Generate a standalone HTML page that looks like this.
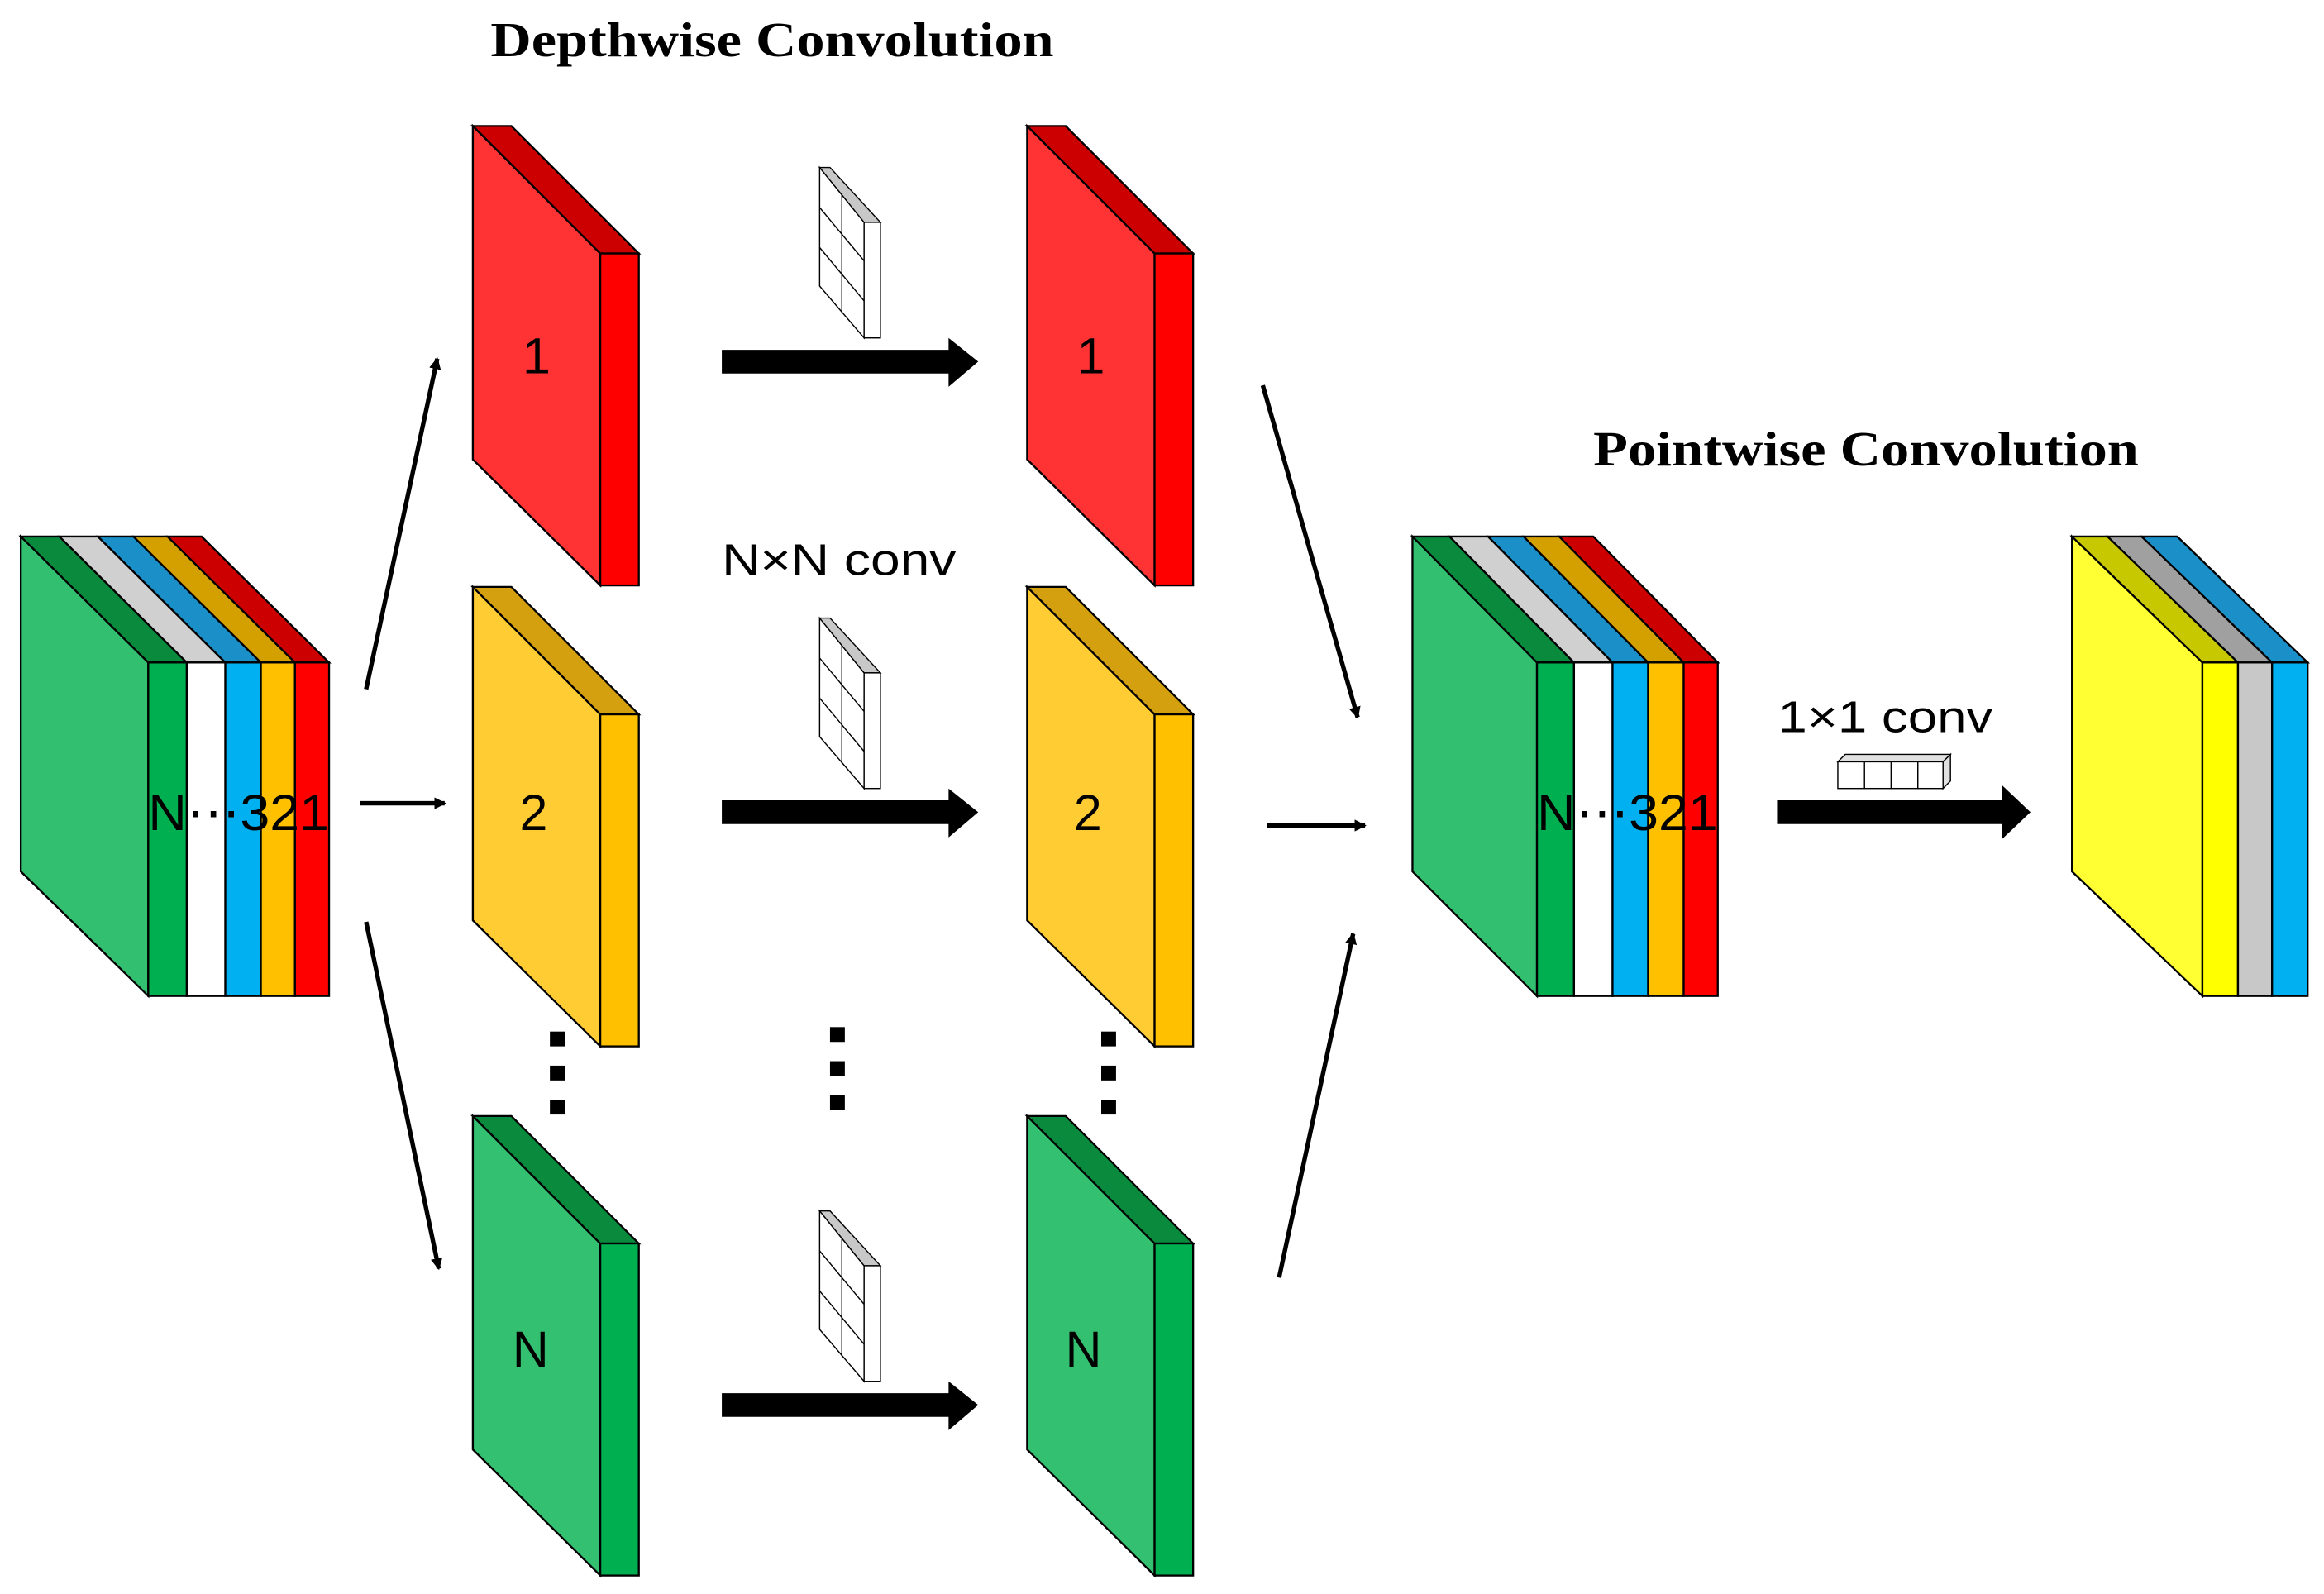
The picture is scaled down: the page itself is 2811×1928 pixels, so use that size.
<!DOCTYPE html>
<html><head><meta charset="utf-8"><style>
html,body{margin:0;padding:0;background:#fff;}
svg{display:block;}
</style></head><body>
<svg width="2811" height="1928" viewBox="0 0 1568 1075.5" xmlns="http://www.w3.org/2000/svg">
<defs>
<marker id="ah" markerWidth="8" markerHeight="8" refX="7" refY="4" orient="auto" markerUnits="userSpaceOnUse" viewBox="0 0 8 8">
<path d="M0,0 L8,4 L0,8 Z" fill="#000"/></marker>
<g id="kern" stroke="#000" stroke-width="0.8">
<polygon points="553,113 583,150 583,228 553,193" fill="#fff"/>
<polygon points="553,113 560,113 594,150 583,150" fill="#c8c8c8"/>
<rect x="583" y="150" width="11" height="78" fill="#fff"/>
<line x1="568" y1="131" x2="568" y2="211"/>
<line x1="553" y1="140" x2="583" y2="176"/>
<line x1="553" y1="167" x2="583" y2="203"/>
</g>
</defs>
<g stroke="#000" stroke-width="1.3" stroke-linejoin="miter">
<!-- input stack -->
<polygon points="14,362 100,447 100,672 14,588" fill="#33bf70"/>
<polygon points="14,362 40,362 126,447 100,447" fill="#0a8a3c"/>
<polygon points="40,362 66,362 152,447 126,447" fill="#d0d0d0"/>
<polygon points="66,362 90,362 176,447 152,447" fill="#1a8fc8"/>
<polygon points="90,362 113,362 199,447 176,447" fill="#d4a000"/>
<polygon points="113,362 136,362 222,447 199,447" fill="#cc0000"/>
<rect x="100" y="447" width="26" height="225" fill="#00b050"/>
<rect x="126" y="447" width="26" height="225" fill="#fff"/>
<rect x="152" y="447" width="24" height="225" fill="#00b0f0"/>
<rect x="176" y="447" width="23" height="225" fill="#ffc000"/>
<rect x="199" y="447" width="23" height="225" fill="#ff0000"/>

<!-- mid stack -->
<polygon points="953,362 1037,447 1037,672 953,588" fill="#33bf70"/>
<polygon points="953,362 978,362 1062,447 1037,447" fill="#0a8a3c"/>
<polygon points="978,362 1004,362 1088,447 1062,447" fill="#d0d0d0"/>
<polygon points="1004,362 1028,362 1112,447 1088,447" fill="#1a8fc8"/>
<polygon points="1028,362 1052,362 1136,447 1112,447" fill="#d4a000"/>
<polygon points="1052,362 1075,362 1159,447 1136,447" fill="#cc0000"/>
<rect x="1037" y="447" width="25" height="225" fill="#00b050"/>
<rect x="1062" y="447" width="26" height="225" fill="#fff"/>
<rect x="1088" y="447" width="24" height="225" fill="#00b0f0"/>
<rect x="1112" y="447" width="24" height="225" fill="#ffc000"/>
<rect x="1136" y="447" width="23" height="225" fill="#ff0000"/>

<!-- output stack -->
<polygon points="1398,362 1486,447 1486,672 1398,588" fill="#ffff33"/>
<polygon points="1398,362 1422,362 1510,447 1486,447" fill="#c8c800"/>
<polygon points="1422,362 1445,362 1533,447 1510,447" fill="#a0a0a0"/>
<polygon points="1445,362 1469,362 1557,447 1533,447" fill="#1a8fc8"/>
<rect x="1486" y="447" width="24" height="225" fill="#ffff00"/>
<rect x="1510" y="447" width="23" height="225" fill="#c8c8c8"/>
<rect x="1533" y="447" width="24" height="225" fill="#00b0f0"/>

<!-- slabs -->
<g id="s1">
<polygon points="319,85 405,171 405,395 319,310" fill="#ff3333"/>
<polygon points="319,85 345,85 431,171 405,171" fill="#cc0000"/>
<rect x="405" y="171" width="26" height="224" fill="#ff0000"/>
</g>
<g>
<polygon points="319,396 405,482 405,706 319,621" fill="#ffcc33"/>
<polygon points="319,396 345,396 431,482 405,482" fill="#d4a010"/>
<rect x="405" y="482" width="26" height="224" fill="#ffc000"/>
</g>
<g>
<polygon points="319,753 405,839 405,1063 319,978" fill="#33c070"/>
<polygon points="319,753 345,753 431,839 405,839" fill="#0a8a3c"/>
<rect x="405" y="839" width="26" height="224" fill="#00b050"/>
</g>
<g>
<polygon points="693,85 779,171 779,395 693,310" fill="#ff3333"/>
<polygon points="693,85 719,85 805,171 779,171" fill="#cc0000"/>
<rect x="779" y="171" width="26" height="224" fill="#ff0000"/>
</g>
<g>
<polygon points="693,396 779,482 779,706 693,621" fill="#ffcc33"/>
<polygon points="693,396 719,396 805,482 779,482" fill="#d4a010"/>
<rect x="779" y="482" width="26" height="224" fill="#ffc000"/>
</g>
<g>
<polygon points="693,753 779,839 779,1063 693,978" fill="#33c070"/>
<polygon points="693,753 719,753 805,839 779,839" fill="#0a8a3c"/>
<rect x="779" y="839" width="26" height="224" fill="#00b050"/>
</g>
</g>

<!-- kernels -->
<use href="#kern"/>
<use href="#kern" transform="translate(0,304)"/>
<use href="#kern" transform="translate(0,704)"/>

<!-- 1x1 kernel -->
<g stroke="#000" stroke-width="0.8" fill="#fff">
<polygon points="1240,514 1245,509 1316,509 1311,514" fill="#e0e0e0"/>
<rect x="1240" y="514" width="18" height="18"/>
<rect x="1258" y="514" width="18" height="18"/>
<rect x="1276" y="514" width="18" height="18"/>
<rect x="1294" y="514" width="17" height="18"/>
<polygon points="1311,514 1316,509 1316,527 1311,532" fill="#e0e0e0"/>
</g>

<!-- big arrows -->
<g fill="#000">
<polygon points="487,236 640,236 640,228 660,244 640,261 640,252 487,252"/>
<polygon points="487,540 640,540 640,532 660,548 640,565 640,556 487,556"/>
<polygon points="487,940 640,940 640,932 660,948 640,965 640,956 487,956"/>
<polygon points="1199,540 1351,540 1351,530 1370,548 1351,566 1351,556 1199,556"/>
</g>

<!-- thin arrows -->
<g stroke="#000" stroke-width="3" marker-end="url(#ah)">
<line x1="247" y1="465" x2="295" y2="242"/>
<line x1="243" y1="542" x2="300" y2="542"/>
<line x1="247" y1="622" x2="296" y2="856"/>
<line x1="852" y1="260" x2="916" y2="484"/>
<line x1="855" y1="557" x2="921" y2="557"/>
<line x1="863" y1="862" x2="913" y2="630"/>
</g>

<!-- dots -->
<g fill="#000">
<rect x="371" y="696" width="10" height="10"/><rect x="371" y="719" width="10" height="10"/><rect x="371" y="742" width="10" height="10"/>
<rect x="560" y="693" width="10" height="10"/><rect x="560" y="716" width="10" height="10"/><rect x="560" y="739" width="10" height="10"/>
<rect x="743" y="696" width="10" height="10"/><rect x="743" y="719" width="10" height="10"/><rect x="743" y="742" width="10" height="10"/>
</g>

<!-- text -->
<g font-family="Liberation Sans, sans-serif" fill="#000">
<text x="362" y="252" font-size="34" text-anchor="middle">1</text>
<text x="736" y="252" font-size="34" text-anchor="middle">1</text>
<text x="360" y="560" font-size="34" text-anchor="middle">2</text>
<text x="734" y="560" font-size="34" text-anchor="middle">2</text>
<text x="358" y="922" font-size="34" text-anchor="middle">N</text>
<text x="731" y="922" font-size="34" text-anchor="middle">N</text>
<text x="161" y="560" font-size="34" text-anchor="middle" textLength="122" lengthAdjust="spacingAndGlyphs">N⋯321</text>
<text x="1098" y="560" font-size="34" text-anchor="middle" textLength="122" lengthAdjust="spacingAndGlyphs">N⋯321</text>
<text x="566" y="388" font-size="30" text-anchor="middle" textLength="158" lengthAdjust="spacingAndGlyphs">N×N conv</text>
<text x="1272" y="494" font-size="30" text-anchor="middle" textLength="145" lengthAdjust="spacingAndGlyphs">1×1 conv</text>
</g>
<g font-family="Liberation Serif, serif" font-weight="bold" fill="#000" font-size="33">
<text x="521" y="38" text-anchor="middle" textLength="380" lengthAdjust="spacingAndGlyphs">Depthwise Convolution</text>
<text x="1259" y="314" text-anchor="middle" textLength="368" lengthAdjust="spacingAndGlyphs">Pointwise Convolution</text>
</g>
</svg>
</body></html>
